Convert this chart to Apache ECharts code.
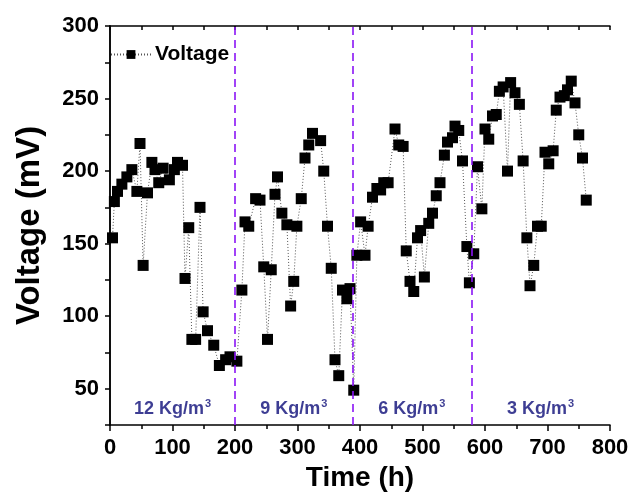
<!DOCTYPE html>
<html>
<head>
<meta charset="utf-8">
<script src="https://cdn.jsdelivr.net/npm/echarts@6/dist/echarts.min.js"></script>
<style>
html, body { margin: 0; padding: 0; background: #fff; }
#main { width: 632px; height: 497px; }
</style>
</head>
<body>
<div id="main"></div>
<script>
// time (h) and voltage (mV)
var timeH = [4, 7, 12, 19, 27, 35, 43, 48, 53, 60, 67, 72, 78, 85, 95, 103, 108, 116, 120, 126,
    131, 137, 144, 149, 156, 166, 175, 185, 192, 203,
    211, 216, 222, 233, 240, 246, 252, 258, 264, 268, 275, 283, 289, 294, 299, 306, 312, 318, 324, 337,
    342, 348, 354, 360, 366, 372, 379, 384, 390,
    395, 401, 408, 413, 420, 427, 433, 438, 445, 456, 462, 469, 474, 480, 486, 492, 497, 503, 510, 516,
    522, 528, 535, 540, 548, 552, 558, 564, 571, 575,
    582, 588, 595, 600, 606, 612, 618, 623, 629, 636, 641, 648, 655, 661, 667, 672, 678, 684, 690, 696,
    702, 709, 714, 720, 727, 732, 738, 744, 750, 756, 762];
var voltage = [154, 179, 186, 191, 196, 201, 186, 219, 135, 185, 206, 201, 192, 202, 194, 201, 206, 204, 126, 161,
    84, 84, 175, 103, 90, 80, 66, 70, 72, 69,
    118, 165, 162, 181, 180, 134, 84, 132, 184, 196, 171, 163, 107, 124, 162, 181, 209, 218, 226, 221,
    200, 162, 133, 70, 59, 118, 112, 119, 49,
    142, 165, 142, 162, 182, 188, 187, 192, 192, 229, 218, 217, 145, 124, 117, 154, 159, 127, 164, 171,
    183, 192, 211, 220, 223, 231, 228, 207, 148, 123,
    143, 203, 174, 229, 222, 238, 239, 255, 258, 200, 261, 254, 246, 207, 154, 121, 135, 162, 162, 213,
    205, 214, 242, 251, 252, 256, 262, 247, 225, 209, 180];

// loading changes (h) and the loading of each stage
var stageEdges = [0, 200, 388, 578, 800];
var stageNames = ['12', '9', '6', '3'];
var stageLabelY = 36;

var font = 'Liberation Sans, Arial, sans-serif';

var points = [];
for (var i = 0; i < timeH.length; i++) {
    points.push([timeH[i], voltage[i]]);
}
var stageLines = [];
for (var j = 1; j < stageEdges.length - 1; j++) {
    stageLines.push({ xAxis: stageEdges[j] });
}
var stageLabels = [];
for (var k = 0; k < stageNames.length; k++) {
    stageLabels.push({ value: [(stageEdges[k] + stageEdges[k + 1]) / 2, stageLabelY], name: stageNames[k] });
}

var myChart = echarts.init(document.getElementById('main'));
var option = {
    backgroundColor: '#fff',
    animation: false,
    grid: { left: 110, right: 22, top: 26, bottom: 70 },
    legend: {
        data: ['Voltage'],
        left: 110, top: 44, padding: 0,
        itemWidth: 40, itemHeight: 11, itemGap: 5,
        textStyle: { fontFamily: font, fontWeight: 'bold', fontSize: 21, color: '#000', padding: [0, 0, 0, -1] }
    },
    xAxis: [{
        type: 'value', min: 0, max: 800, interval: 100,
        name: 'Time (h)', nameLocation: 'middle', nameGap: 39,
        nameTextStyle: { fontFamily: font, fontWeight: 'bold', fontSize: 28, color: '#000' },
        axisLine: { show: true, lineStyle: { color: '#000', width: 1.5 } },
        axisTick: { show: true, inside: false, length: 6, lineStyle: { color: '#000', width: 1.5 } },
        minorTick: { show: true, splitNumber: 2, length: 4, lineStyle: { color: '#000', width: 1.5 } },
        axisLabel: { fontFamily: font, fontWeight: 'bold', fontSize: 22, color: '#000', margin: 12 },
        splitLine: { show: false }
    }, {
        type: 'value', min: 0, max: 800, interval: 50, position: 'top',
        axisLine: { show: true, lineStyle: { color: '#000', width: 1.5 } },
        axisTick: { show: true, inside: true, length: 4, lineStyle: { color: '#000', width: 1.5 } },
        axisLabel: { show: false },
        splitLine: { show: false }
    }],
    yAxis: [{
        type: 'value', min: 25, max: 300, interval: 25,
        name: 'Voltage (mV)', nameLocation: 'middle', nameGap: 64,
        nameTextStyle: { fontFamily: font, fontWeight: 'bold', fontSize: 33, color: '#000' },
        axisLine: { show: true, lineStyle: { color: '#000', width: 1.5 } },
        axisTick: { show: true, inside: false, length: 5, lineStyle: { color: '#000', width: 1.5 } },
        axisLabel: {
            fontFamily: font, fontWeight: 'bold', fontSize: 22, color: '#000', margin: 11,
            formatter: function (v) { return v % 50 === 0 ? String(v) : ''; }
        },
        splitLine: { show: false }
    }, {
        type: 'value', min: 25, max: 300, interval: 25, position: 'right',
        axisLine: { show: true, lineStyle: { color: '#000', width: 1.5 } },
        axisTick: { show: true, inside: true, length: 4, lineStyle: { color: '#000', width: 1.5 } },
        axisLabel: { show: false },
        splitLine: { show: false }
    }],
    series: [{
        name: 'Voltage',
        type: 'line',
        data: points,
        symbol: 'rect',
        symbolSize: 11,
        itemStyle: { color: '#000' },
        lineStyle: { color: '#555', width: 1, type: [1, 2] },
        markLine: {
            silent: true,
            symbol: 'none',
            label: { show: false },
            lineStyle: { color: '#8a14f5', width: 1.6, type: [8, 5] },
            data: stageLines
        },
        z: 3
    }, {
        name: 'stage',
        type: 'scatter',
        data: stageLabels,
        symbolSize: 0,
        silent: true,
        label: {
            show: true,
            position: 'inside',
            formatter: function (p) { return '{n|' + p.name + ' Kg/m}{s|3}'; },
            rich: {
                n: { fontFamily: font, fontWeight: 'bold', fontSize: 18, color: '#0c0c78', lineHeight: 22 },
                s: { fontFamily: font, fontWeight: 'bold', fontSize: 11, color: '#0c0c78', verticalAlign: 'top', lineHeight: 22, padding: [0, 0, 0, 1] }
            }
        }
    }]
};
myChart.setOption(option);
</script>
</body>
</html>
